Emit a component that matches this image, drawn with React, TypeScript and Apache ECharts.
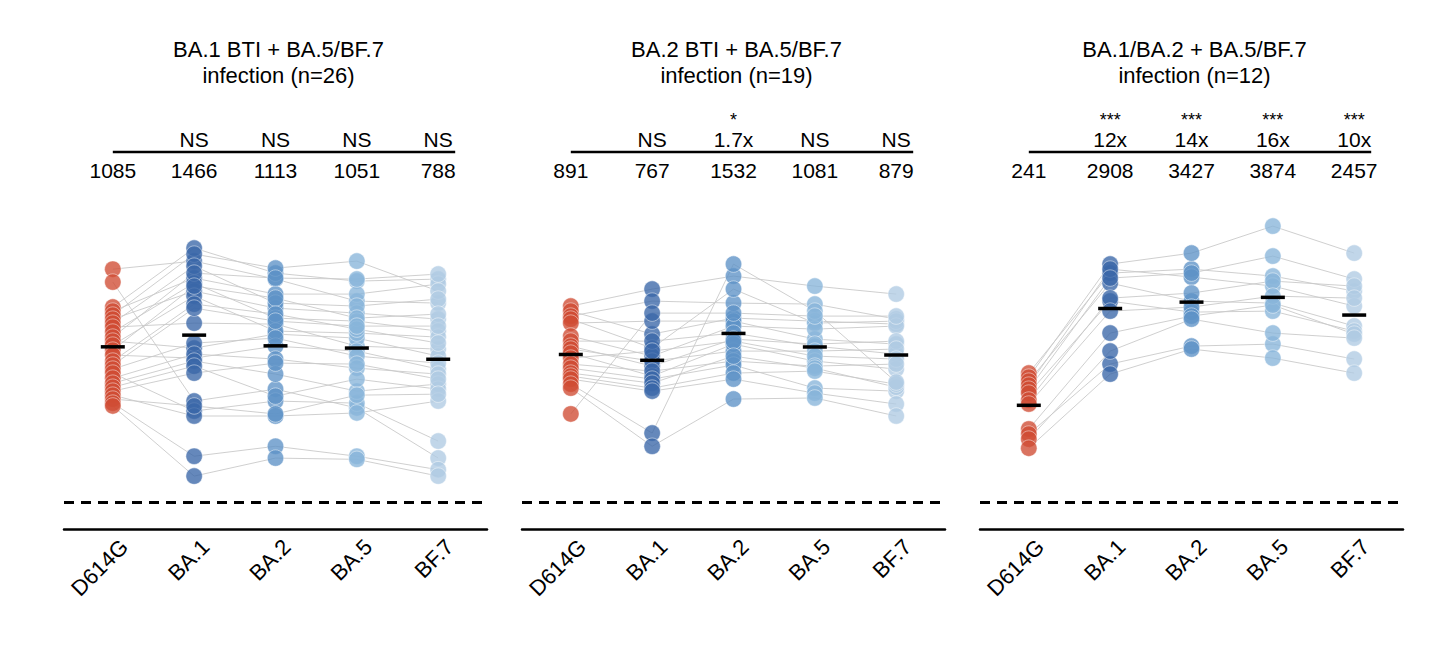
import React, { useEffect, useRef } from 'react';
import * as echarts from 'echarts';

const categories = ['D614G', 'BA.1', 'BA.2', 'BA.5', 'BF.7'];
const panelTitles = [
  'BA.1 BTI + BA.5/BF.7\ninfection (n=26)',
  'BA.2 BTI + BA.5/BF.7\ninfection (n=19)',
  'BA.1/BA.2 + BA.5/BF.7\ninfection (n=12)',
];
const LOD = 20;

// Panel 1 (subject order)
const p1D614G = [8000, 5740, 3020, 2720, 2455, 2214, 1997, 1802, 1586, 1394, 1257, 1134, 997, 877, 752, 679, 612, 552, 485, 426, 384, 347, 313, 283, 255, 237];
const p1BA1 = [9847, 269, 13750, 6360, 11790, 4551, 8656, 1997, 5590, 7230, 1050, 4000, 5175, 812, 3258, 2938, 1194, 208, 900, 752, 661, 552, 183, 237, 65, 39];
const p1BA2 = [6199, 365, 7230, 4214, 8222, 2938, 3342, 1947, 2271, 6360, 1506, 1627, 3800, 1105, 2519, 2103, 1358, 269, 792, 538, 305, 714, 183, 193, 84, 62];
const p1BA5 = [3519, 225, 5887, 4214, 9847, 2583, 3095, 1105, 2103, 6199, 1358, 1545, 2271, 972, 1713, 1850, 855, 255, 627, 347, 473, 696, 198, 313, 65, 60];
const p1BF7 = [3342, 62, 6199, 5451, 4551, 2214, 3705, 1024, 1627, 7049, 855, 1394, 2519, 612, 1194, 1850, 714, 96, 538, 416, 365, 473, 269, 321, 46, 39];
const p1GM = [1085, 1466, 1113, 1051, 788];
const p1Fold = ['', 'NS', 'NS', 'NS', 'NS'];
const p1Stars = ['', '', '', '', ''];

// Panel 2
const p2D614G = [3095, 2720, 2392, 2214, 1997, 1431, 1257, 1105, 1024, 923, 812, 696, 627, 552, 511, 473, 416, 375, 193];
const p2BA1 = [4792, 1506, 3519, 1050, 2103, 855, 1257, 661, 752, 511, 972, 581, 473, 426, 375, 347, 118, 84, 2583];
const p2BA2 = [6696, 2271, 3342, 4792, 2103, 1850, 1545, 1324, 972, 1164, 1257, 752, 679, 855, 552, 473, 9117, 283, 2583];
const p2BA5 = [5175, 2103, 3258, 1997, 1324, 1713, 1105, 1164, 972, 752, 855, 661, 375, 627, 581, 330, 2720, 291, 2392];
const p2BF7 = [4214, 1947, 2214, 2103, 1164, 1850, 900, 1257, 1024, 612, 792, 696, 347, 384, 416, 249, 438, 183, 2392];
const p2GM = [891, 767, 1532, 1081, 879];
const p2Fold = ['', 'NS', '1.7x', 'NS', 'NS'];
const p2Stars = ['', '', '*', '', ''];

// Panel 3
const p3D614G = [552, 497, 449, 405, 365, 330, 276, 249, 131, 115, 101, 80];
const p3BA1 = [7230, 9117, 5590, 8016, 6360, 3519, 3800, 2720, 1545, 696, 972, 538];
const p3BA2 = [8016, 12094, 3519, 6524, 7230, 2651, 4322, 3015, 2392, 1105, 2214, 1024];
const p3BA5 = [6696, 24218, 3342, 5175, 11200, 2720, 5887, 4000, 3176, 1164, 1545, 812];
const p3BF7 = [4551, 12094, 1850, 3095, 6199, 1627, 5175, 3800, 1506, 792, 1358, 552];
const p3GM = [241, 2908, 3427, 3874, 2457];
const p3Fold = ['', '12x', '14x', '16x', '10x'];
const p3Stars = ['', '***', '***', '***', '***'];

const panels = [
  { title: panelTitles[0], values: [p1D614G, p1BA1, p1BA2, p1BA5, p1BF7], gm: p1GM, fold: p1Fold, stars: p1Stars },
  { title: panelTitles[1], values: [p2D614G, p2BA1, p2BA2, p2BA5, p2BF7], gm: p2GM, fold: p2Fold, stars: p2Stars },
  { title: panelTitles[2], values: [p3D614G, p3BA1, p3BA2, p3BA5, p3BF7], gm: p3GM, fold: p3Fold, stars: p3Stars },
];

const variantColors = ['#cf4b33', '#3a66a8', '#5e92c6', '#88b5da', '#afcbe3'];
const GRID_LEFT = [64, 522, 980];
const GRID_W = 423;
const GRID_TOP = 171;
const GRID_H = 358;
const X_MIN = -0.6;
const X_MAX = 4.6;
const LABEL_SHIFT = 0.14;
const FONT = "'Liberation Sans', Arial, Helvetica, sans-serif";

function xOf(k: number, i: number) {
  return GRID_LEFT[k] + ((i - X_MIN) / (X_MAX - X_MIN)) * GRID_W;
}

export default function App() {
  const ref = useRef<HTMLDivElement>(null);
  useEffect(() => {
    document.body.style.margin = '0';
    const chart = echarts.init(ref.current!, null, { renderer: 'svg' });
    const grid: any[] = [];
    const xAxis: any[] = [];
    const yAxis: any[] = [];
    const series: any[] = [];
    const title: any[] = [];
    const graphic: any[] = [];

    panels.forEach((p, k) => {
      grid.push({ left: GRID_LEFT[k], top: GRID_TOP, width: GRID_W, height: GRID_H });
      xAxis.push({
        type: 'value', gridIndex: k, min: X_MIN, max: X_MAX,
        axisLine: { show: true, onZero: false, lineStyle: { color: '#000', width: 2.5 } },
        axisTick: { show: false },
        splitLine: { show: false },
        axisLabel: {
          customValues: categories.map((_, i) => i + LABEL_SHIFT),
          formatter: (v: number) => categories[Math.round(v - LABEL_SHIFT)] ?? '',
          rotate: 45, fontSize: 22, color: '#000', margin: 14, fontFamily: FONT,
        },
      });
      yAxis.push({
        type: 'log', gridIndex: k, min: 10, max: 100000, logBase: 10,
        axisLine: { show: false }, axisTick: { show: false }, axisLabel: { show: false }, splitLine: { show: false },
      });
      const n = p.values[0].length;
      for (let j = 0; j < n; j++) {
        series.push({
          type: 'line', xAxisIndex: k, yAxisIndex: k, silent: true, symbol: 'none', z: 1,
          data: p.values.map((arr, i) => [i, arr[j]]),
          lineStyle: { color: '#cacaca', width: 0.9 },
        });
      }
      p.values.forEach((arr, i) => {
        series.push({
          type: 'scatter', xAxisIndex: k, yAxisIndex: k, z: 2, symbolSize: 16.5,
          data: arr.map((v) => [i, v]),
          itemStyle: { color: variantColors[i], opacity: 0.78, borderColor: 'rgba(255,255,255,0.75)', borderWidth: 0.8 },
        });
      });
      series.push({
        type: 'scatter', xAxisIndex: k, yAxisIndex: k, z: 5, symbol: 'rect', symbolSize: [24, 3.5],
        data: p.gm.map((v, i) => [i, v]),
        itemStyle: { color: '#000', opacity: 1 },
        markLine: {
          silent: true, symbol: 'none', label: { show: false },
          lineStyle: { color: '#000', type: [10, 7], width: 3 },
          data: [{ yAxis: LOD }],
        },
      });
      title.push({
        text: p.title, left: GRID_LEFT[k] + GRID_W / 2 - 2, top: 31, textAlign: 'center',
        textStyle: { fontSize: 22, fontWeight: 'normal', color: '#000', lineHeight: 26, fontFamily: FONT },
      });
      graphic.push({
        type: 'line', shape: { x1: xOf(k, 0), y1: 152, x2: xOf(k, 4) + 17, y2: 152 },
        style: { stroke: '#000', lineWidth: 2.5 },
      });
      categories.forEach((_, i) => {
        graphic.push({
          type: 'text', x: xOf(k, i), y: 170,
          style: { text: String(p.gm[i]), fontSize: 21, fill: '#000', align: 'center', verticalAlign: 'middle', fontFamily: FONT },
        });
        if (p.fold[i]) graphic.push({
          type: 'text', x: xOf(k, i), y: 139,
          style: { text: p.fold[i], fontSize: 21, fill: '#000', align: 'center', verticalAlign: 'middle', fontFamily: FONT },
        });
        if (p.stars[i]) graphic.push({
          type: 'text', x: xOf(k, i), y: 120,
          style: { text: p.stars[i], fontSize: 18, fill: '#000', align: 'center', verticalAlign: 'middle', fontFamily: FONT },
        });
      });
    });

    chart.setOption({
      animation: false,
      backgroundColor: '#fff',
      textStyle: { fontFamily: FONT },
      title, grid, xAxis, yAxis, series, graphic,
    });
    return () => chart.dispose();
  }, []);
  return <div ref={ref} style={{ width: 1432, height: 648 }} />;
}
